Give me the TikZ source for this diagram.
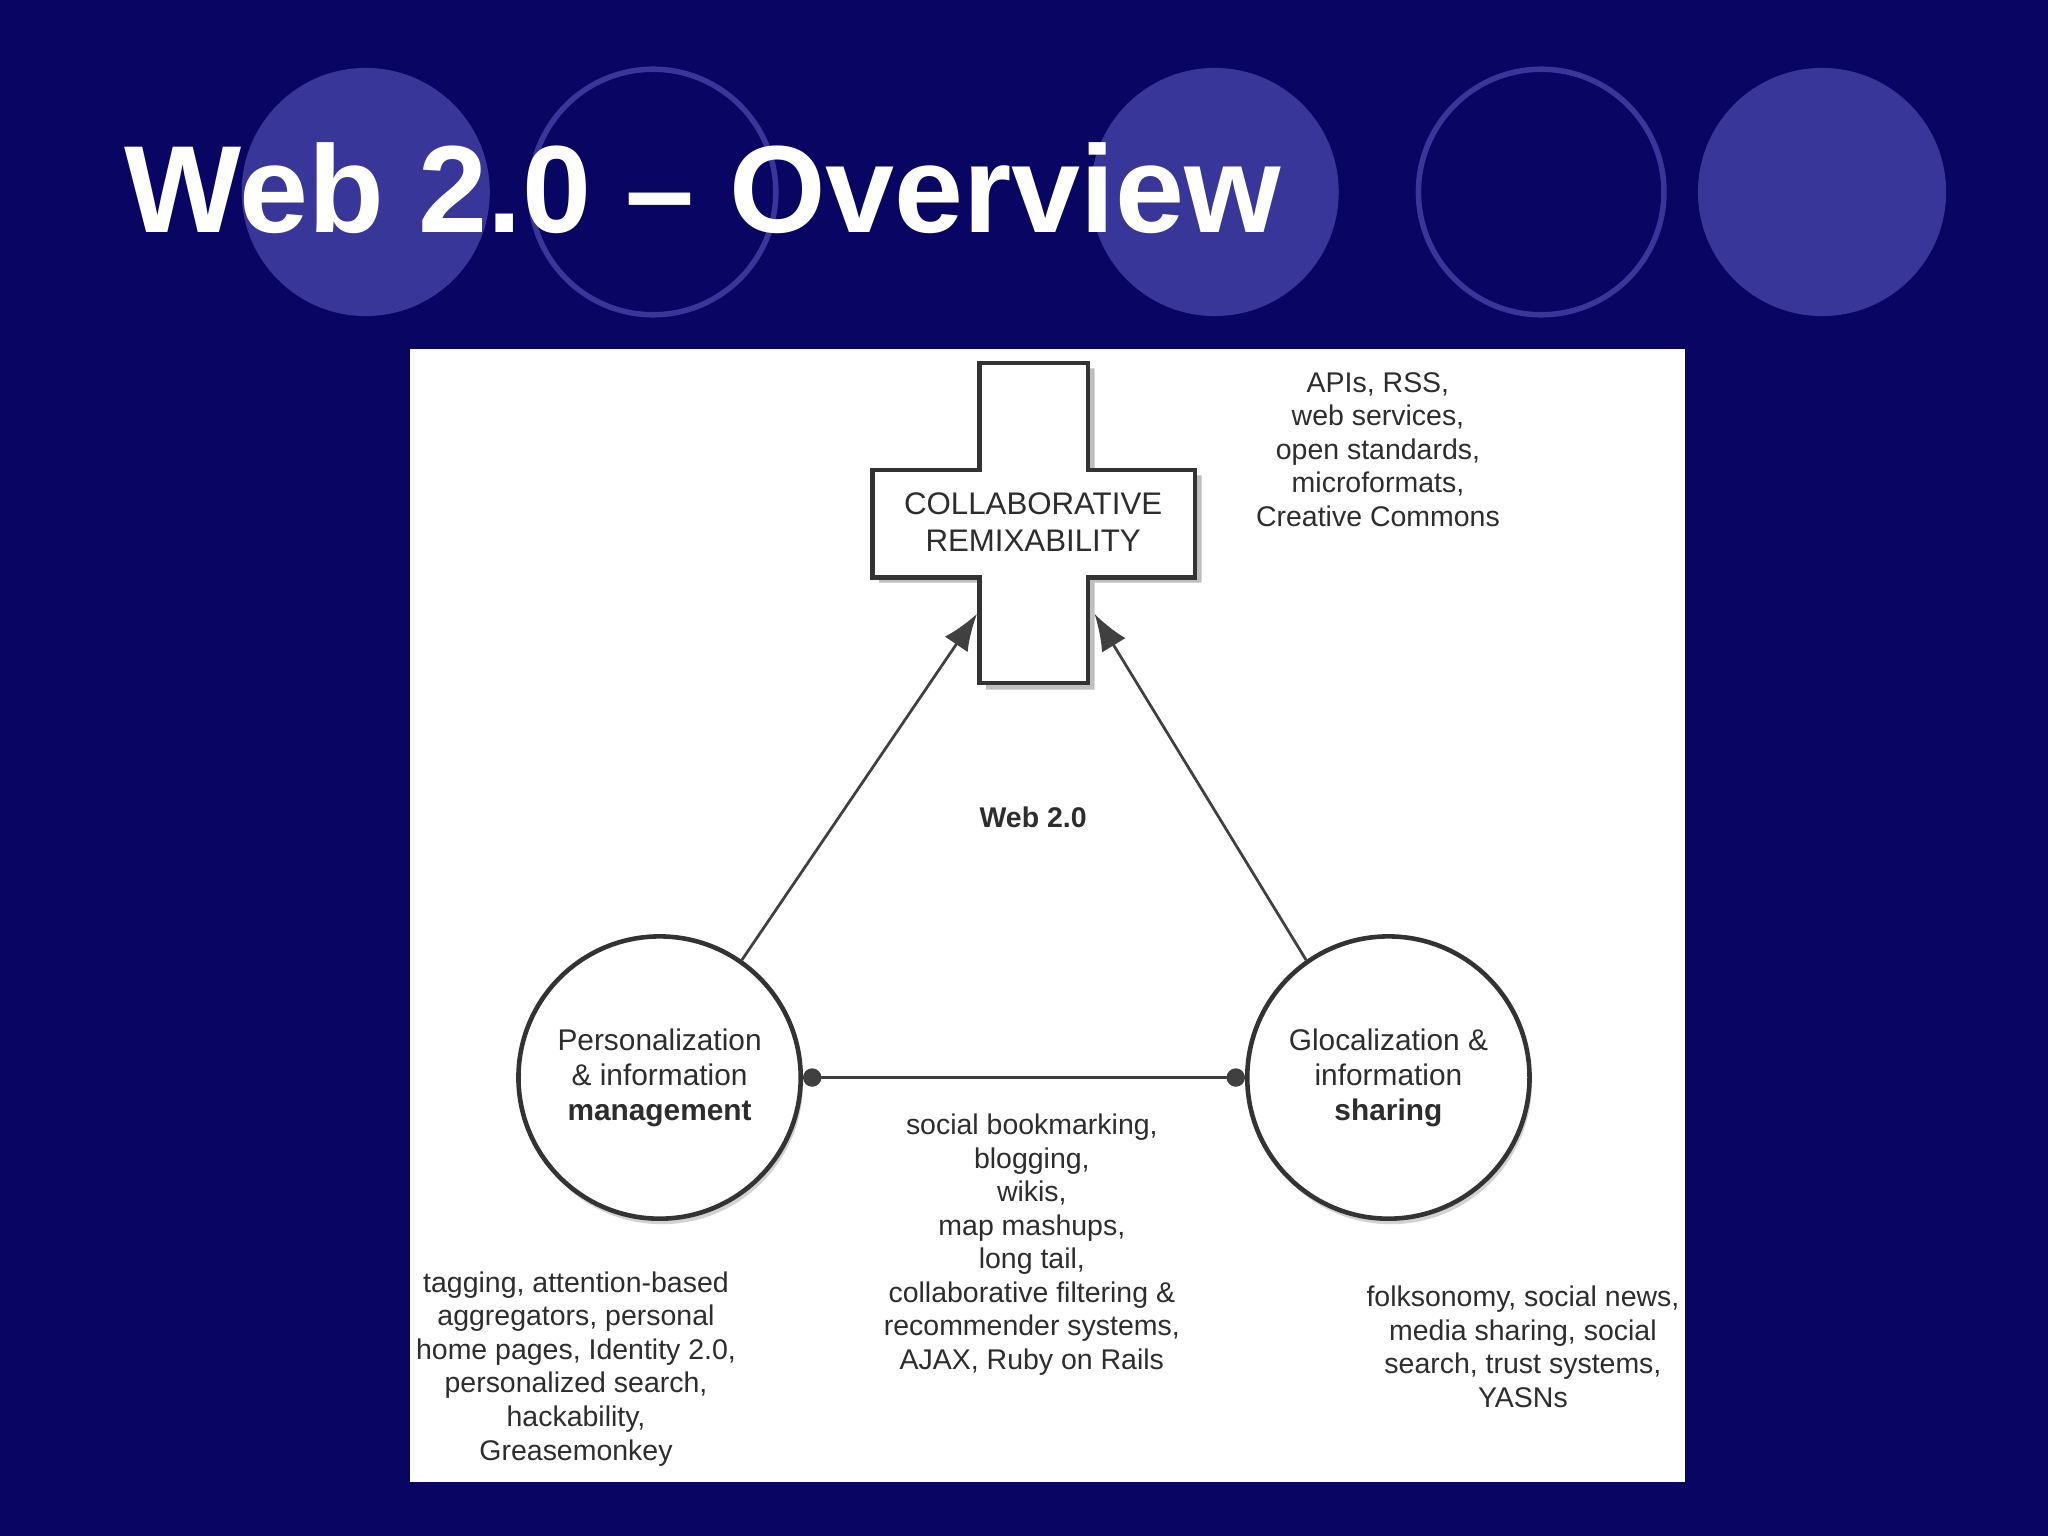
\documentclass[tikz,border=0pt]{standalone}
\usepackage{fontspec}
\setmainfont{Liberation Sans}
\definecolor{navy}{RGB}{8,6,98}
\definecolor{disc}{RGB}{56,54,152}
\definecolor{ink}{RGB}{45,45,45}
\tikzset{
  deco/.style={draw=disc, line width=1.2pt},
  lbl/.style={align=center, text=ink, font=\fontsize{6.2}{7.3}\selectfont, inner sep=0pt},
  bubble/.style={circle, draw=black!80, line width=1pt, fill=white, minimum size=2.16cm, drop shadow={shadow xshift=0.5pt, shadow yshift=-1.2pt, opacity=0.35}},
  conn/.style={draw=black!75, line width=0.6pt},
}
\usetikzlibrary{shadows,arrows.meta}
\begin{document}
\begin{tikzpicture}[x=0.01cm,y=-0.01cm]
\useasboundingbox (0,0) rectangle (1568,1176);
\fill[navy] (0,0) rectangle (1568,1176);
\fill[disc] (280,147) circle (95);
\draw[deco] (500,147) circle (94);
\fill[disc] (930,147) circle (95);
\draw[deco] (1180,147) circle (94);
\fill[disc] (1395,147) circle (95);
\node[anchor=base west, text=white, font=\bfseries\fontsize{27}{30}\selectfont, inner sep=0pt] (title) at (95,178) {Web 2.0 – Overview};
\fill[white] (314,267) rectangle (1290,1135);
% cross
\fill[black!25] (755,282) -- (838,282) -- (838,364) -- (920,364) -- (920,446) -- (838,446) -- (838,528) -- (755,528) -- (755,446) -- (673,446) -- (673,364) -- (755,364) -- cycle;
\draw[fill=white, draw=black!80, line width=1pt] (750,278) -- (833,278) -- (833,360) -- (915,360) -- (915,442) -- (833,442) -- (833,523) -- (750,523) -- (750,442) -- (668,442) -- (668,360) -- (750,360) -- cycle;
\coordinate (crossL) at (748,470);
\coordinate (crossR) at (838,470);
\node[lbl, font=\fontsize{6.8}{8}\selectfont] (cr) at (791,400) {COLLABORATIVE\\REMIXABILITY};
\node[lbl] (apis) at (1055,344) {APIs, RSS,\\web services,\\open standards,\\microformats,\\Creative Commons};
\node[lbl, font=\bfseries\fontsize{6.2}{7.3}\selectfont] (w20) at (791,626) {Web 2.0};
\node[bubble] (pim) at (505,825) {};
\node[bubble] (gis) at (1063,825) {};
\node[lbl, font=\fontsize{6.5}{7.6}\selectfont] at (505,825) {Personalization\\\& information\\\textbf{management}};
\node[lbl, font=\fontsize{6.5}{7.6}\selectfont] at (1063,825) {Glocalization \&\\information\\\textbf{sharing}};
\draw[conn, -{Latex[length=8pt,width=6pt]}] (pim.55) -- (crossL);
\draw[conn, -{Latex[length=8pt,width=6pt]}] (gis.125) -- (crossR);
\draw[conn, {Circle[length=4pt]}-{Circle[length=4pt]}] (pim.east) -- (gis.west);
\node[lbl] (mid) at (790,953) {social bookmarking,\\blogging,\\wikis,\\map mashups,\\long tail,\\collaborative filtering \&\\recommender systems,\\AJAX, Ruby on Rails};
\node[lbl] (left) at (441,1048) {tagging, attention-based\\aggregators, personal\\home pages, Identity 2.0,\\personalized search,\\hackability,\\Greasemonkey};
\node[lbl] (right) at (1166,1031) {folksonomy, social news,\\media sharing, social\\search, trust systems,\\YASNs};
\end{tikzpicture}
\end{document}
